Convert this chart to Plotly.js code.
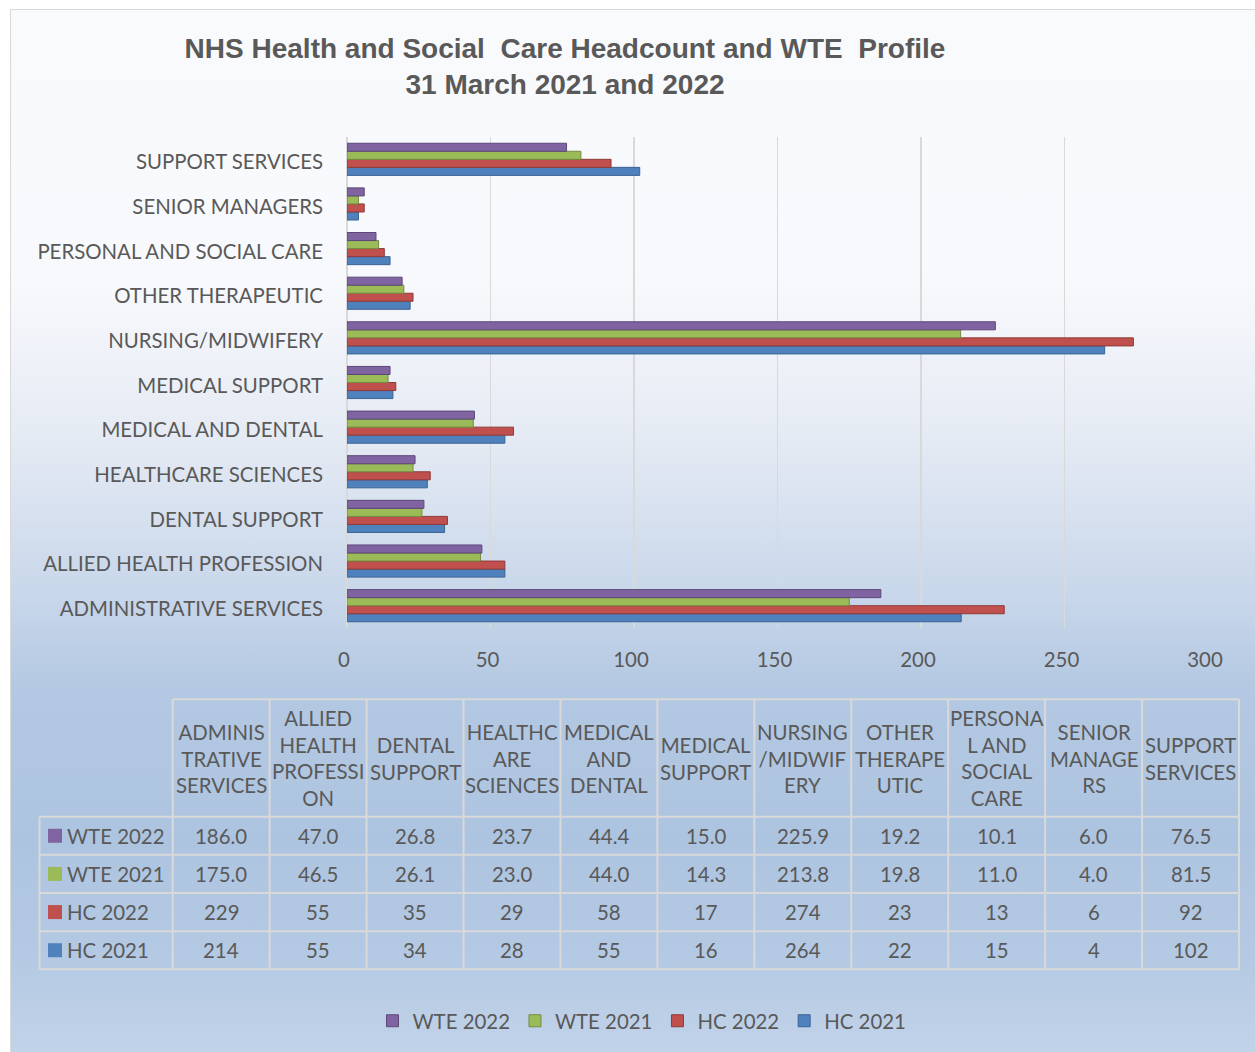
<!DOCTYPE html>
<html>
<head>
<meta charset="utf-8">
<script src="https://cdn.plot.ly/plotly-3.0.1.min.js"></script>
<style>
  html, body { margin: 0; padding: 0; background: #ffffff; width: 1255px; height: 1052px; overflow: hidden; }
  #bg {
    position: absolute; left: 10px; top: 9px; width: 1245px; height: 1043px;
    border-left: 1px solid #d9d9d9; border-top: 1px solid #d9d9d9; box-sizing: border-box;
    background: linear-gradient(to bottom,
      #f9fafc 0px, #f8f9fc 270px, #e3e9f3 440px, #c7d6ea 590px,
      #b3c8e2 680px, #adc4e0 830px, #b4c9e3 950px, #c1d3e9 1043px);
  }
  #chart { position: absolute; left: 0; top: 0; width: 1255px; height: 1052px; }
</style>
</head>
<body>
<div id="bg"></div>
<div id="chart"></div>
<script>
// ---- data ----
const categories = [
  "ADMINISTRATIVE SERVICES", "ALLIED HEALTH PROFESSION", "DENTAL SUPPORT",
  "HEALTHCARE SCIENCES", "MEDICAL AND DENTAL", "MEDICAL SUPPORT",
  "NURSING/MIDWIFERY", "OTHER THERAPEUTIC", "PERSONAL AND SOCIAL CARE",
  "SENIOR MANAGERS", "SUPPORT SERVICES"
];
const tableHeaders = [
  "ADMINIS<br>TRATIVE<br>SERVICES", "ALLIED<br>HEALTH<br>PROFESSI<br>ON", "DENTAL<br>SUPPORT",
  "HEALTHC<br>ARE<br>SCIENCES", "MEDICAL<br>AND<br>DENTAL", "MEDICAL<br>SUPPORT",
  "NURSING<br>/MIDWIF<br>ERY", "OTHER<br>THERAPE<br>UTIC", "PERSONA<br>L AND<br>SOCIAL<br>CARE",
  "SENIOR<br>MANAGE<br>RS", "SUPPORT<br>SERVICES"
];
const wte2022 = [186.0, 47.0, 26.8, 23.7, 44.4, 15.0, 225.9, 19.2, 10.1, 6.0, 76.5];
const wte2021 = [175.0, 46.5, 26.1, 23.0, 44.0, 14.3, 213.8, 19.8, 11.0, 4.0, 81.5];
const hc2022  = [229, 55, 35, 29, 58, 17, 274, 23, 13, 6, 92];
const hc2021  = [214, 55, 34, 28, 55, 16, 264, 22, 15, 4, 102];
const xTicks = [0, 50, 100, 150, 200, 250, 300];

// ---- styling ----
const W = 1255, H = 1052;
const FONT = "Lato, 'Open Sans', sans-serif";
const FS = 20.4;
const TXT = "#595959";
const GRID = "#d9d9d9";
const series = [
  { name: "HC 2021",  values: hc2021,  color: "#4F81BD", edge: "#3b6394", dec: 0 },
  { name: "HC 2022",  values: hc2022,  color: "#C0504D", edge: "#8f3a38", dec: 0 },
  { name: "WTE 2021", values: wte2021, color: "#9BBB59", edge: "#738c40", dec: 1 },
  { name: "WTE 2022", values: wte2022, color: "#8064A2", edge: "#5c4778", dec: 1 }
];

const px = x => x / W;
const py = y => 1 - y / H;

const traces = series.map(s => ({
  type: "bar", orientation: "h", name: s.name,
  y: categories, x: s.values,
  marker: { color: s.color, line: { color: s.edge, width: 1 } },
  hoverinfo: "x+name"
}));

// ---- data table (annotations + shapes) ----
const tblLeft = 39.5, colStart = 172.7, colW = (1239 - 172.7) / 11;
const hdrTop = 699.3, hdrBot = 816.7, rowH = (969.3 - 816.7) / 4;
const tableRows = series.slice().reverse(); // WTE 2022, WTE 2021, HC 2022, HC 2021
const shapes = [];
const annotations = [];
const lineStyle = { color: GRID, width: 2 };

// horizontal lines
shapes.push({ type: "line", xref: "paper", yref: "paper", x0: px(colStart), x1: px(colStart + 11 * colW), y0: py(hdrTop), y1: py(hdrTop), line: lineStyle });
for (let r = 0; r <= 4; r++) {
  const y = hdrBot + r * rowH;
  shapes.push({ type: "line", xref: "paper", yref: "paper", x0: px(tblLeft), x1: px(colStart + 11 * colW), y0: py(y), y1: py(y), line: lineStyle });
}
// vertical lines
shapes.push({ type: "line", xref: "paper", yref: "paper", x0: px(tblLeft), x1: px(tblLeft), y0: py(hdrBot), y1: py(hdrBot + 4 * rowH), line: lineStyle });
for (let c = 0; c <= 11; c++) {
  const x = colStart + c * colW;
  shapes.push({ type: "line", xref: "paper", yref: "paper", x0: px(x), x1: px(x), y0: py(hdrTop), y1: py(hdrBot + 4 * rowH), line: lineStyle });
}
// header texts
tableHeaders.forEach((h, c) => {
  annotations.push({
    xref: "paper", yref: "paper", x: px(colStart + (c + 0.5) * colW), y: py((hdrTop + hdrBot) / 2),
    xanchor: "center", yanchor: "middle", align: "center", showarrow: false,
    text: h, font: { family: FONT, size: FS, color: TXT }
  });
});
// row texts
tableRows.forEach((s, r) => {
  const yc = hdrBot + (r + 0.5) * rowH;
  shapes.push({ type: "rect", xref: "paper", yref: "paper", x0: px(48), x1: px(62), y0: py(yc - 7), y1: py(yc + 7), fillcolor: s.color, line: { width: 0 } });
  annotations.push({
    xref: "paper", yref: "paper", x: px(65), y: py(yc), xanchor: "left", yanchor: "middle",
    showarrow: false, text: s.name, font: { family: FONT, size: FS, color: TXT }
  });
  s.values.forEach((v, c) => {
    annotations.push({
      xref: "paper", yref: "paper", x: px(colStart + (c + 0.5) * colW), y: py(yc),
      xanchor: "center", yanchor: "middle", showarrow: false,
      text: v.toFixed(s.dec), font: { family: FONT, size: FS, color: TXT }
    });
  });
});

const layout = {
  width: W, height: H,
  margin: { l: 0, r: 0, t: 0, b: 0, autoexpand: false },
  paper_bgcolor: "rgba(0,0,0,0)", plot_bgcolor: "rgba(0,0,0,0)",
  font: { family: FONT, color: TXT, size: FS },
  title: {
    text: "NHS Health and Social  Care Headcount and WTE  Profile<br>31 March 2021 and 2022",
    xref: "container", yref: "container", x: 565 / W, xanchor: "center",
    y: 1 - 58 / H, yanchor: "top",
    font: { family: "'Liberation Sans', Arial, sans-serif", size: 28, color: TXT, weight: "bold" }
  },
  barmode: "group", bargap: 0.28, bargroupgap: 0,
  xaxis: {
    domain: [px(347), px(1208)], range: [0, 300], tickvals: xTicks,
    showgrid: true, gridcolor: GRID, gridwidth: 1.5, zeroline: true, zerolinecolor: GRID, zerolinewidth: 1.5,
    showline: false, ticks: "", ticklabelstandoff: 18, ticklabelshift: -3,
    tickfont: { family: FONT, size: FS, color: TXT }, fixedrange: true
  },
  yaxis: {
    domain: [py(628), py(137)], type: "category", categoryorder: "array", categoryarray: categories,
    showgrid: false, zeroline: false, showline: false, ticks: "", ticklabelstandoff: 23, ticklabelshift: 3,
    tickfont: { family: FONT, size: FS, color: TXT }, fixedrange: true
  },
  showlegend: true,
  legend: {
    orientation: "h", traceorder: "reversed", xref: "paper", yref: "paper",
    x: px(642), xanchor: "center", y: py(1021), yanchor: "middle",
    font: { family: FONT, size: FS, color: TXT }, bgcolor: "rgba(0,0,0,0)"
  },
  shapes: shapes,
  annotations: annotations
};

Plotly.newPlot("chart", traces, layout, { displayModeBar: false, staticPlot: true });
</script>
</body>
</html>
